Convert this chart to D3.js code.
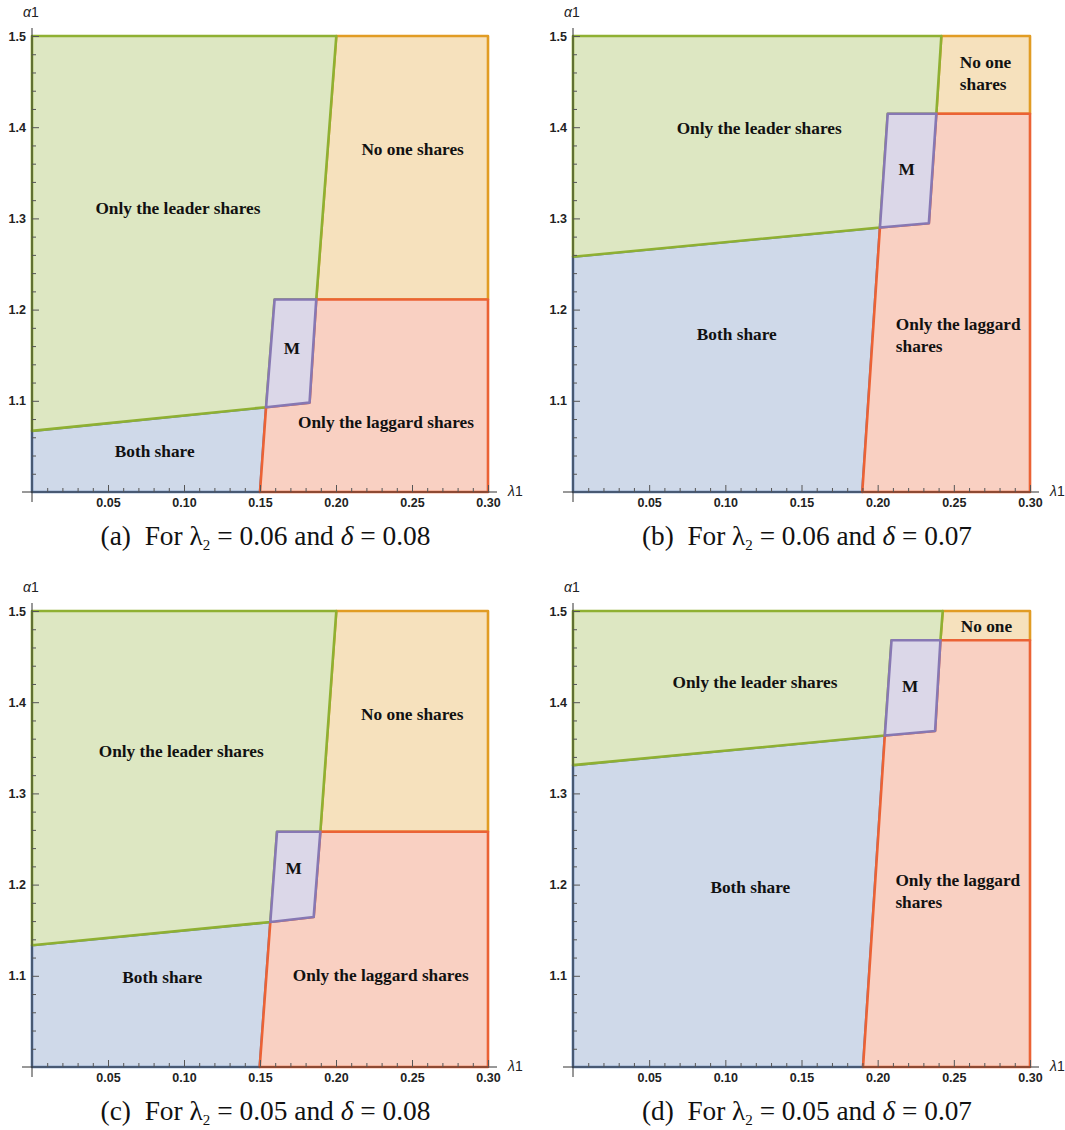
<!DOCTYPE html>
<html>
<head>
<meta charset="utf-8">
<script src="https://cdn.jsdelivr.net/npm/d3@7"></script>
<style>
  html, body { margin: 0; padding: 0; background: #fff; }
  svg { display: block; }
</style>
</head>
<body>
<svg id="chart" width="1065" height="1130"></svg>
<script>
// ---------------- DATA ----------------
const panelIds      = ["a", "b", "c", "d"];
const lambda2Values = ["0.06", "0.06", "0.05", "0.05"];
const deltaValues   = ["0.08", "0.07", "0.08", "0.07"];

// Axis ranges and ticks
const xDomain = [0, 0.30];
const yDomain = [1.0, 1.5];
const xMajorTicks = [0.05, 0.10, 0.15, 0.20, 0.25, 0.30];
const xTickLabels = ["0.05", "0.10", "0.15", "0.20", "0.25", "0.30"];
const yMajorTicks = [1.1, 1.2, 1.3, 1.4, 1.5];
const yTickLabels = ["1.1", "1.2", "1.3", "1.4", "1.5"];
const xMinorTicks = [0.01,0.02,0.03,0.04,0.06,0.07,0.08,0.09,0.11,0.12,0.13,0.14,0.16,0.17,0.18,0.19,0.21,0.22,0.23,0.24,0.26,0.27,0.28,0.29];
const yMinorTicks = [1.02,1.04,1.06,1.08,1.12,1.14,1.16,1.18,1.22,1.24,1.26,1.28,1.32,1.34,1.36,1.38,1.42,1.44,1.46,1.48];

// Boundary points (per panel a, b, c, d)
const bothLeaderLeftAlpha  = [1.067, 1.258, 1.1335, 1.331];   // Both/Leader boundary at λ1 = 0
const tripleLambda         = [0.154, 0.2015, 0.1568, 0.2047]; // lower-left corner of M
const tripleAlpha          = [1.093, 1.290, 1.159, 1.3634];
const mTopLeftLambda       = [0.1596, 0.2066, 0.1612, 0.2091];
const mTopAlpha            = [1.211, 1.4147, 1.258, 1.4679];  // also Laggard / No one boundary
const mTopRightLambda      = [0.187, 0.2385, 0.1897, 0.2412];
const mBottomRightLambda   = [0.1826, 0.2336, 0.1853, 0.2377];
const mBottomRightAlpha    = [1.098, 1.2946, 1.1644, 1.3684];
const leaderNoOneTopLambda = [0.2002, 0.2418, 0.2002, 0.2427]; // at α1 = 1.5
const laggardBaseLambda    = [0.150, 0.1899, 0.1498, 0.1904];  // at α1 = 1.0

// Region labels (per panel)
const leaderLabelText  = [["Only the leader shares"], ["Only the leader shares"], ["Only the leader shares"], ["Only the leader shares"]];
const noOneLabelText   = [["No one shares"], ["No one", "shares"], ["No one shares"], ["No one"]];
const laggardLabelText = [["Only the laggard shares"], ["Only the laggard", "shares"], ["Only the laggard shares"], ["Only the laggard", "shares"]];
const bothLabelText    = [["Both share"], ["Both share"], ["Both share"], ["Both share"]];
const mLabelText       = [["M"], ["M"], ["M"], ["M"]];

const leaderLabelPos  = [[0.096, 1.311], [0.1222, 1.3995], [0.0982, 1.3469], [0.1195, 1.4221]];
const noOneLabelPos   = [[0.2504, 1.3756], [0.2708, 1.4599], [0.2502, 1.3876], [0.2714, 1.4836]];
const laggardLabelPos = [[0.2329, 1.0763], [0.2529, 1.172], [0.2294, 1.1014], [0.2526, 1.1932]];
const bothLabelPos    = [[0.0807, 1.045], [0.1075, 1.1729], [0.0857, 1.0987], [0.1164, 1.1973]];
const mLabelPos       = [[0.171, 1.1577], [0.2191, 1.3545], [0.1721, 1.2177], [0.2214, 1.4174]];

// ---------------- STYLE / LAYOUT ----------------
const colors = {
  both:    "#5E81B5",
  noone:   "#E19C24",
  leader:  "#8FB032",
  laggard: "#EB6235",
  m:       "#8778B3"
};
const panelRects = [
  {L: 32,  R: 488,  T: 36,  B: 492},
  {L: 573, R: 1030, T: 36,  B: 492},
  {L: 32,  R: 488,  T: 611, B: 1067},
  {L: 573, R: 1030, T: 611, B: 1067}
];

const svg = d3.select("#chart");

function lighten(c, a) {
  const col = d3.rgb(c);
  return d3.rgb(255 - a * (255 - col.r), 255 - a * (255 - col.g), 255 - a * (255 - col.b)).formatHex();
}

panelIds.forEach((id, i) => {
  const r = panelRects[i];
  const x = d3.scaleLinear().domain(xDomain).range([r.L, r.R]);
  const y = d3.scaleLinear().domain(yDomain).range([r.B, r.T]);
  const g = svg.append("g");

  const polys = [
    {key: "both", pts: [[0, 1.0], [laggardBaseLambda[i], 1.0], [tripleLambda[i], tripleAlpha[i]], [0, bothLeaderLeftAlpha[i]]]},
    {key: "noone", pts: [[mTopRightLambda[i], mTopAlpha[i]], [0.30, mTopAlpha[i]], [0.30, 1.5], [leaderNoOneTopLambda[i], 1.5]]},
    {key: "leader", pts: [[0, bothLeaderLeftAlpha[i]], [tripleLambda[i], tripleAlpha[i]], [mTopLeftLambda[i], mTopAlpha[i]],
                          [mTopRightLambda[i], mTopAlpha[i]], [leaderNoOneTopLambda[i], 1.5], [0, 1.5]]},
    {key: "laggard", pts: [[laggardBaseLambda[i], 1.0], [0.30, 1.0], [0.30, mTopAlpha[i]], [mTopRightLambda[i], mTopAlpha[i]],
                           [mBottomRightLambda[i], mBottomRightAlpha[i]], [tripleLambda[i], tripleAlpha[i]]]},
    {key: "m", pts: [[tripleLambda[i], tripleAlpha[i]], [mTopLeftLambda[i], mTopAlpha[i]], [mTopRightLambda[i], mTopAlpha[i]],
                     [mBottomRightLambda[i], mBottomRightAlpha[i]]]}
  ];

  const line = d3.line().x(d => x(d[0])).y(d => y(d[1])).curve(d3.curveLinearClosed);

  g.selectAll("path.region").data(polys).join("path")
    .attr("class", "region")
    .attr("d", d => line(d.pts))
    .attr("fill", d => lighten(colors[d.key], 0.3))
    .attr("stroke", d => colors[d.key])
    .attr("stroke-width", 2.6)
    .attr("stroke-linejoin", "round");

  // Axes
  const axG = g.append("g");
  axG.append("line").attr("x1", x(0) - 10).attr("x2", x(0.30) + 9)
    .attr("y1", y(1.0)).attr("y2", y(1.0)).attr("stroke", "#333").attr("stroke-width", 1);
  axG.append("line").attr("x1", x(0)).attr("x2", x(0))
    .attr("y1", y(1.0) + 10).attr("y2", y(1.5) - 8).attr("stroke", "#333").attr("stroke-width", 1);

  const tickStyle = sel => {
    sel.select(".domain").remove();
    sel.selectAll(".tick line").attr("stroke", "#555").attr("stroke-width", 1);
    sel.selectAll(".tick text").attr("fill", "#222")
      .style("font-family", "'Liberation Sans', Arial, sans-serif")
      .style("font-weight", "bold").style("font-size", "12.5px");
  };

  g.append("g").attr("transform", `translate(0,${y(1.0)})`)
    .call(d3.axisBottom(x).tickValues(xMinorTicks).tickSize(-4).tickFormat(""))
    .call(tickStyle);
  g.append("g").attr("transform", `translate(0,${y(1.0)})`)
    .call(d3.axisBottom(x).tickValues(xMajorTicks).tickSize(-7).tickPadding(6)
      .tickFormat((d, k) => xTickLabels[k]))
    .call(tickStyle);
  g.append("g").attr("transform", `translate(${x(0)},0)`)
    .call(d3.axisLeft(y).tickValues(yMinorTicks).tickSize(-4).tickFormat(""))
    .call(tickStyle);
  g.append("g").attr("transform", `translate(${x(0)},0)`)
    .call(d3.axisLeft(y).tickValues(yMajorTicks).tickSize(-7).tickPadding(6)
      .tickFormat((d, k) => yTickLabels[k]))
    .call(tickStyle);

  // Axis titles
  const at = g.append("text").attr("x", x(0) - 1).attr("y", y(1.5) - 19)
    .attr("text-anchor", "middle")
    .style("font-family", "'Liberation Sans', Arial, sans-serif").style("font-size", "14px").attr("fill", "#222");
  at.append("tspan").text("α").style("font-style", "italic");
  at.append("tspan").text("1");
  const lt = g.append("text").attr("x", x(0.30) + 20).attr("y", y(1.0) + 4)
    .style("font-family", "'Liberation Sans', Arial, sans-serif").style("font-size", "14px").attr("fill", "#222");
  lt.append("tspan").text("λ").style("font-style", "italic");
  lt.append("tspan").text("1");

  // Region labels
  const labels = [
    {lines: leaderLabelText[i], pos: leaderLabelPos[i]},
    {lines: noOneLabelText[i], pos: noOneLabelPos[i]},
    {lines: laggardLabelText[i], pos: laggardLabelPos[i]},
    {lines: bothLabelText[i], pos: bothLabelPos[i]},
    {lines: mLabelText[i], pos: mLabelPos[i]}
  ];
  const lineH = 22;
  labels.forEach(lb => {
    const t = g.append("text")
      .style("font-family", "'Liberation Serif', 'Times New Roman', serif")
      .style("font-weight", "bold").style("font-size", "17.3px").attr("fill", "#111");
    const n = lb.lines.length;
    lb.lines.forEach(s => { t.append("tspan").text(s); });
    const spans = t.selectAll("tspan").nodes();
    const widths = spans.map(s => s.getComputedTextLength());
    const maxW = d3.max(widths);
    const cx = x(lb.pos[0]), cy = y(lb.pos[1]);
    const left = cx - maxW / 2;
    spans.forEach((s, k) => {
      const yy = cy + (k - (n - 1) / 2) * lineH + 6;
      d3.select(s).attr("y", yy)
        .attr("x", n > 1 ? left : cx)
        .attr("text-anchor", n > 1 ? "start" : "middle");
    });
  });

  // Caption
  const cap = svg.append("text")
    .attr("y", r.B + 53)
    .style("font-family", "'Liberation Serif', 'Times New Roman', serif")
    .style("font-size", "22px").attr("fill", "#111");
  cap.append("tspan").text(`(${id})\u2002For `);
  cap.append("tspan").text("λ");
  cap.append("tspan").text("2").style("font-size", "15px").attr("dy", 5);
  cap.append("tspan").text(` = ${lambda2Values[i]} and `).attr("dy", -5);
  cap.append("tspan").text("δ").style("font-style", "italic");
  cap.append("tspan").text(` = ${deltaValues[i]}`);
  const bw = cap.node().getBBox().width;
  const targetW = 332;
  const fs = 22 * targetW / bw;
  cap.style("font-size", fs + "px");
  const bw2 = cap.node().getBBox().width;
  const ccx = (r.L + r.R) / 2 + 5.5;
  cap.attr("x", ccx - bw2 / 2);
});
</script>
</body>
</html>
